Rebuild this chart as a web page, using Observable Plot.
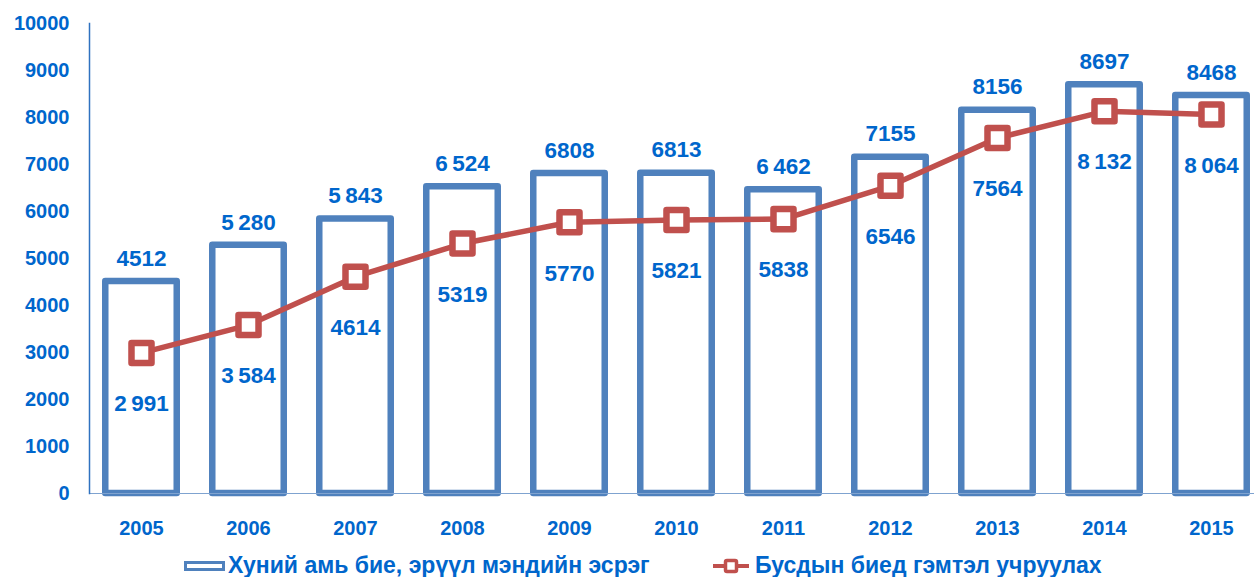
<!DOCTYPE html>
<html>
<head>
<meta charset="utf-8">
<script src="https://cdn.jsdelivr.net/npm/d3@7"></script>
<script src="https://cdn.jsdelivr.net/npm/@observablehq/plot@0.6"></script>
<style>
  html, body { margin: 0; padding: 0; background: #fff; overflow: hidden; }
  body { width: 1254px; height: 577px; font-family: "Liberation Sans", Arial, sans-serif; }
  #chart { position: relative; width: 1254px; }
  #legend { position: relative; width: 1254px; height: 29px; }
  .item { position: absolute; top: 3px; height: 29px; display: flex; align-items: center;
          font-weight: bold; font-size: 23px; color: #0066CC; white-space: nowrap; }
</style>
</head>
<body>
<div id="chart"></div>
<div id="legend">
  <div class="item" style="left:184px">
    <svg width="44" height="29"><rect x="1.5" y="11.5" width="38" height="7" fill="#fff" stroke="#4F81BD" stroke-width="3"/></svg>
    <span style="margin-left:0px">Хуний амь бие, эрүүл мэндийн эсрэг</span>
  </div>
  <div class="item" style="left:713px">
    <svg width="40" height="29"><line x1="0" x2="36" y1="15" y2="15" stroke="#C0504D" stroke-width="4"/><rect x="12.5" y="9.5" width="11" height="11" rx="1.5" fill="#fff" stroke="#C0504D" stroke-width="3.5"/></svg>
    <span style="margin-left:2px">Бусдын биед гэмтэл учруулах</span>
  </div>
</div>
<script>
const years = ["2005","2006","2007","2008","2009","2010","2011","2012","2013","2014","2015"];
const barValues = [4512, 5280, 5843, 6524, 6808, 6813, 6462, 7155, 8156, 8697, 8468];
const lineValues = [2991, 3584, 4614, 5319, 5770, 5821, 5838, 6546, 7564, 8132, 8064];
const barLabels = ["4512", "5\u2009280", "5\u2009843", "6\u2009524", "6808", "6813", "6\u2009462", "7155", "8156", "8697", "8468"];
const lineLabels = ["2\u2009991", "3\u2009584", "4614", "5319", "5770", "5821", "5838", "6546", "7564", "8\u2009132", "8\u2009064"];
const yTicks = [0, 1000, 2000, 3000, 4000, 5000, 6000, 7000, 8000, 9000, 10000];

const barData = years.map((y, i) => ({year: y, value: barValues[i], label: barLabels[i]}));
const lineData = years.map((y, i) => ({year: y, value: lineValues[i], label: lineLabels[i]}));

const blueText = "#0066CC";
const font = "Liberation Sans, Arial, sans-serif";

const chart = Plot.plot({
  width: 1254,
  height: 548,
  marginLeft: 89,
  marginRight: 0,
  marginTop: 23,
  marginBottom: 55,
  style: {fontFamily: font, fontWeight: "bold", color: blueText, background: "#fff", overflow: "visible"},
  x: {domain: years, range: [89, 1263], paddingInner: 0.332, paddingOuter: 0.152, round: false, label: null},
  y: {domain: [0, 10000], label: null},
  marks: [
    Plot.barY(barData, {x: "year", y: "value", fill: "#fff", stroke: "#4F81BD", strokeWidth: 6.5, strokeLinejoin: "round"}),
    Plot.ruleY([0], {stroke: "#7FA3D0", strokeWidth: 1}),
    Plot.frame({anchor: "left", stroke: "#2F72C0", strokeWidth: 1.5}),
    Plot.axisY({ticks: yTicks, tickSize: 0, tickPadding: 20, tickFormat: d => String(d), fontSize: 20, fill: blueText, fontWeight: "bold"}),
    Plot.axisX({tickSize: 0, tickPadding: 27, fontSize: 20, fill: blueText, fontWeight: "bold"}),
    Plot.line(lineData, {x: "year", y: "value", stroke: "#C0504D", strokeWidth: 5.5}),
    Plot.dot(lineData, {x: "year", y: "value", symbol: "square", r: 11.3, fill: "#fff", stroke: "#C0504D", strokeWidth: 6.5, strokeLinejoin: "round"}),
    Plot.text(barData, {x: "year", y: "value", text: "label", dy: -23, fontSize: 22.5, fontWeight: "bold", fill: blueText}),
    Plot.text(lineData, {x: "year", y: "value", text: "label", dy: 51, fontSize: 22.5, fontWeight: "bold", fill: blueText})
  ]
});
document.getElementById("chart").appendChild(chart);
</script>
</body>
</html>
